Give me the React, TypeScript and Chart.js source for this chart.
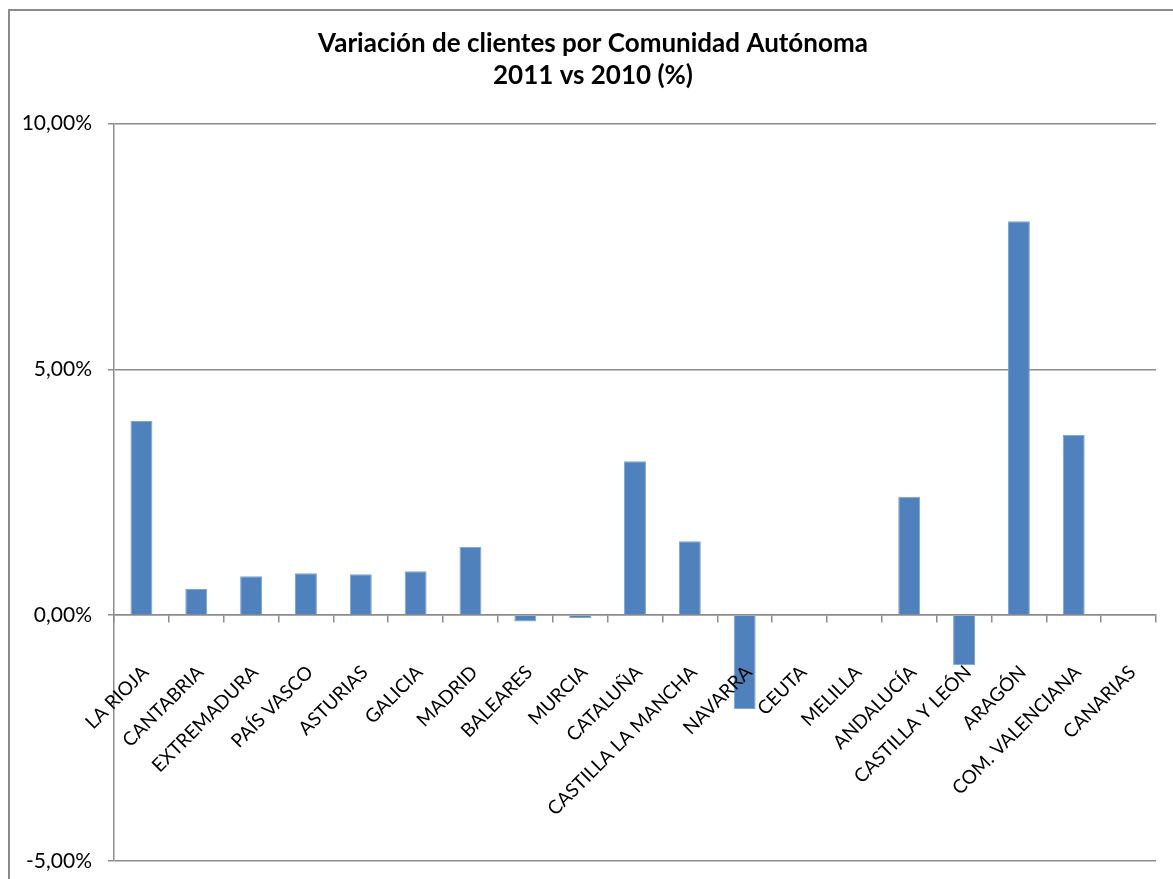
import React, { useEffect, useRef } from "react";
import { Chart, registerables } from "chart.js";

Chart.register(...registerables);

const categories = [
  "LA RIOJA",
  "CANTABRIA",
  "EXTREMADURA",
  "PAÍS VASCO",
  "ASTURIAS",
  "GALICIA",
  "MADRID",
  "BALEARES",
  "MURCIA",
  "CATALUÑA",
  "CASTILLA LA MANCHA",
  "NAVARRA",
  "CEUTA",
  "MELILLA",
  "ANDALUCÍA",
  "CASTILLA Y LEÓN",
  "ARAGÓN",
  "COM. VALENCIANA",
  "CANARIAS",
];

const variation = [
  3.95, 0.53, 0.79, 0.85, 0.83, 0.89, 1.39, -0.13, -0.06, 3.13, 1.5, -1.91, 0, 0,
  2.41, -1.02, 8.01, 3.67, 0,
];

const yMin = -5;
const yMax = 10;
const yStep = 5;

const titleLines = ["Variación de clientes por Comunidad Autónoma", "2011 vs 2010 (%)"];

const AXIS_GREY = "#8c8c8c";
const BAR_BLUE = "#4f81bd";
const FONT = "Lato";

const framePlugin = {
  id: "frame",
  beforeDraw(chart: any) {
    const ctx = chart.ctx;
    ctx.save();
    ctx.fillStyle = "#ffffff";
    ctx.fillRect(0, 0, chart.width, chart.height);
    ctx.strokeStyle = "#8a8a8a";
    ctx.lineWidth = 2;
    ctx.strokeRect(9, 10, 1400, 1200);
    ctx.restore();
  },
};

const titlePlugin = {
  id: "customTitle",
  afterDraw(chart: any) {
    const ctx = chart.ctx;
    ctx.save();
    ctx.fillStyle = "#000000";
    ctx.font = `bold 26px ${FONT}`;
    ctx.textAlign = "center";
    ctx.textBaseline = "alphabetic";
    const cx = 593;
    titleLines.forEach((line, i) => {
      ctx.fillText(line, cx, 52 + i * 31.5);
    });
    ctx.restore();
  },
};

export default function App() {
  const canvasRef = useRef<HTMLCanvasElement | null>(null);

  useEffect(() => {
    document.body.style.margin = "0";
    const canvas = canvasRef.current;
    if (!canvas) return;
    const chart = new Chart(canvas, {
      type: "bar",
      data: {
        labels: categories,
        datasets: [
          {
            label: "Variación",
            data: variation,
            backgroundColor: BAR_BLUE,
            borderColor: "#7fa3d1",
            borderWidth: 1,
            barPercentage: 0.4,
            categoryPercentage: 1,
          },
        ],
      },
      options: {
        responsive: false,
        animation: false,
        layout: { padding: { left: 0, right: 17, top: 123.4, bottom: 18 } },
        plugins: {
          legend: { display: false },
          tooltip: { enabled: false },
          title: { display: false },
        },
        scales: {
          x: {
            type: "category",
            position: { y: 0 } as any,
            offset: true,
            afterFit(scale: any) {
              scale.paddingLeft = 0;
              scale.paddingRight = 0;
            },
            grid: {
              display: true,
              drawOnChartArea: false,
              drawTicks: true,
              tickLength: 7,
              color: AXIS_GREY,
              lineWidth: 1.5,
              offset: true,
            },
            border: { display: true, color: AXIS_GREY, width: 1.5 },
            ticks: {
              z: 1,
              autoSkip: false,
              maxRotation: 45,
              minRotation: 45,
              padding: 39,
              labelOffset: 4,
              color: "#000000",
              font: { family: FONT, size: 19 },
            },
          },
          y: {
            type: "linear",
            min: yMin,
            max: yMax,
            afterFit(scale: any) {
              scale.width = 114;
              scale.paddingTop = 0;
              scale.paddingBottom = 0;
            },
            grid: {
              color: AXIS_GREY,
              lineWidth: 1.5,
              tickLength: 6,
              drawTicks: true,
            },
            border: { display: true, color: AXIS_GREY, width: 1.5 },
            ticks: {
              stepSize: yStep,
              padding: 16,
              color: "#000000",
              font: { family: FONT, size: 21 },
              callback: (v: any) => Number(v).toFixed(2).replace(".", ",") + "%",
            },
          },
        },
      },
      plugins: [framePlugin, titlePlugin],
    });
    return () => chart.destroy();
  }, []);

  return (
    <div style={{ width: 1173, height: 879 }}>
      <canvas ref={canvasRef} width={1173} height={879} style={{ display: "block" }} />
    </div>
  );
}
